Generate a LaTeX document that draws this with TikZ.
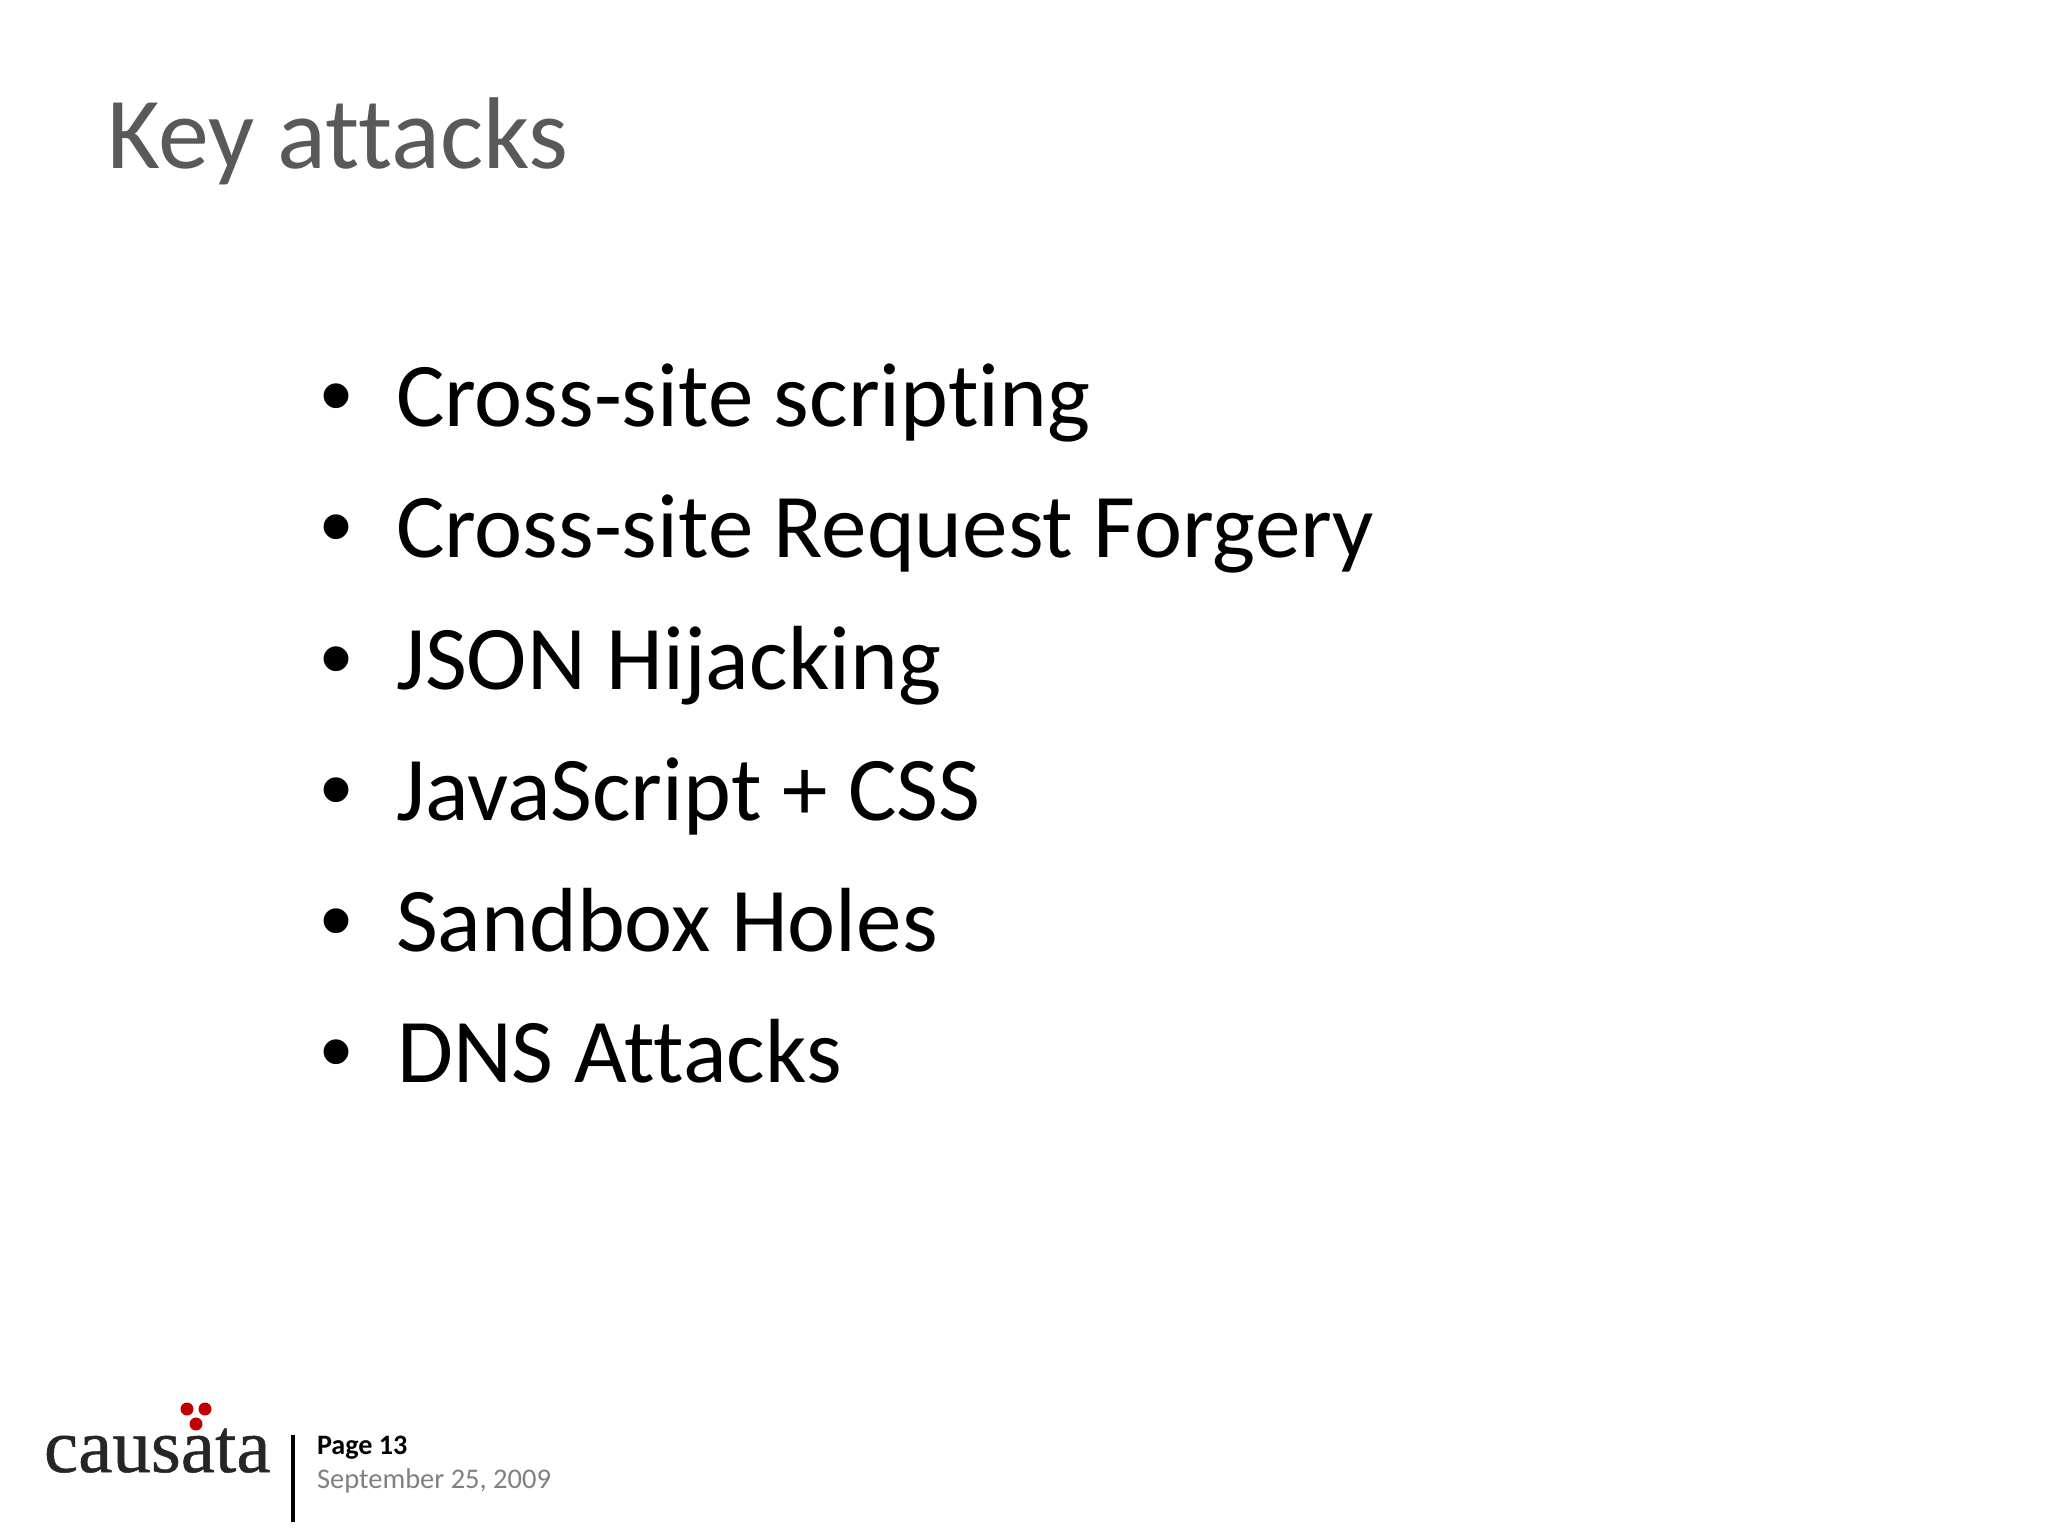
\documentclass[tikz,border=0pt]{standalone}
\usepackage{fontspec}
\setmainfont[Ligatures=CommonOff]{Carlito}
\newfontfamily\logofont[FakeBold=0.6]{Liberation Serif}
\newfontfamily\bulletfont{Liberation Sans}
\definecolor{titlegray}{HTML}{595959}
\definecolor{dategray}{HTML}{808080}
\definecolor{dotred}{HTML}{C00000}
\tikzset{
  every node/.style={inner sep=0pt,outer sep=0pt,anchor=base west},
  title/.style={text=titlegray,font=\fontsize{29}{32}\selectfont},
  item/.style={text=black,font=\fontsize{25.9}{30}\selectfont},
  bullet/.style={text=black,font=\fontsize{26}{30}\bulletfont\selectfont},
  page/.style={text=black,font=\fontsize{8}{10}\selectfont\bfseries},
  date/.style={text=dategray,font=\fontsize{8.1}{10}\selectfont},
  logo/.style={text=black!85,font=\fontsize{21.9}{24}\logofont\selectfont},
  dot/.style={circle,fill=dotred,minimum size=13\pgflinewidth,anchor=center}
}
\begin{document}
\begin{tikzpicture}[x=0.01cm,y=-0.01cm,line width=0.01cm]

  \useasboundingbox (0,0) rectangle (2048,1536);

  \node[title] (heading) at (107,168) {Key attacks};

  \node[bullet] (b1) at (320,426) {•};
  \node[item] (xss) at (396,426) {Cross-site scripting};
  \node[bullet] (b2) at (320,557) {•};
  \node[item] (csrf) at (396,557) {Cross-site Request Forgery};
  \node[bullet] (b3) at (320,689) {•};
  \node[item] (json) at (396,689) {JSON Hijacking};
  \node[bullet] (b4) at (320,820) {•};
  \node[item] (jscss) at (396,820) {JavaScript + CSS};
  \node[bullet] (b5) at (320,951) {•};
  \node[item] (sandbox) at (396,951) {Sandbox Holes};
  \node[bullet] (b6) at (320,1082) {•};
  \node[item] (dns) at (397,1082) {DNS Attacks};

  \node[logo] (causata) at (44,1472) {causata};
  \node[dot] (dot1) at (187,1409) {};
  \node[dot] (dot2) at (205,1409) {};
  \node[dot] (dot3) at (196,1424) {};

  \coordinate (ruletop) at (293,1435);
  \coordinate (rulebot) at (293,1522);
  \draw[line width=2\pgflinewidth] (ruletop) -- (rulebot);

  \node[page] (pagenum) at (317,1454) {Page 13};
  \node[date] (day) at (317,1488) {September 25, 2009};

\end{tikzpicture}
\end{document}
